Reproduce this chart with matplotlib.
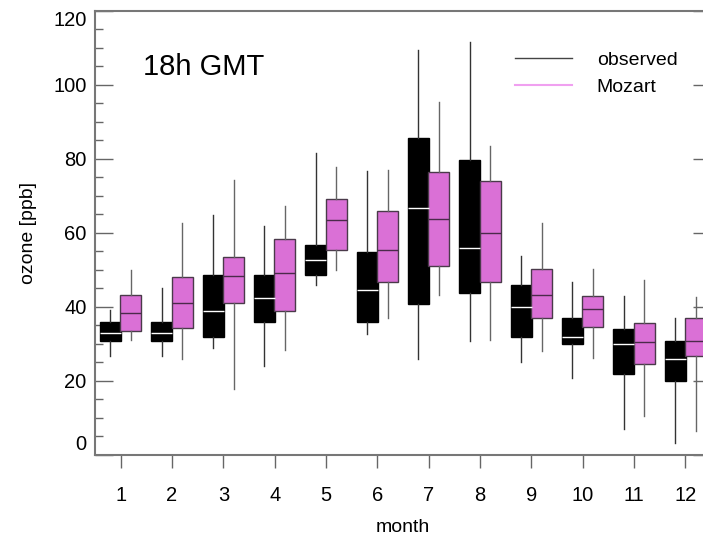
import matplotlib
matplotlib.use("Agg")
import matplotlib.pyplot as plt
from matplotlib.ticker import MultipleLocator

plt.rcParams['font.family'] = ['Liberation Sans', 'DejaVu Sans']

months = [1, 2, 3, 4, 5, 6, 7, 8, 9, 10, 11, 12]
yticks = [0, 20, 40, 60, 80, 100, 120]

# observed: whisker low, q1, median, q3, whisker high
obs_lo  = [26.7, 26.7, 28.8, 23.9, 45.8, 32.7, 25.8, 30.7, 24.9, 20.8, 7.0, 3.0]
obs_q1  = [30.8, 30.8, 31.8, 35.9, 48.6, 35.8, 40.7, 43.6, 31.8, 29.9, 21.7, 19.8]
obs_med = [32.9, 32.9, 38.9, 42.3, 52.7, 44.4, 66.6, 55.9, 39.8, 31.8, 29.9, 25.8]
obs_q3  = [35.9, 35.9, 48.7, 48.7, 56.8, 54.7, 85.6, 79.7, 45.8, 36.8, 33.9, 30.8]
obs_hi  = [39.0, 45.0, 64.7, 61.9, 81.6, 76.7, 109.5, 111.6, 53.8, 46.8, 42.8, 36.8]

# Mozart model
moz_lo  = [31.0, 25.8, 17.8, 28.2, 49.8, 37.0, 43.1, 31.0, 28.0, 26.0, 10.3, 6.4]
moz_q1  = [33.5, 34.2, 41.1, 38.9, 55.2, 46.8, 51.1, 46.6, 37.0, 34.6, 24.4, 26.6]
moz_med = [38.2, 40.9, 48.4, 49.2, 63.5, 55.4, 63.8, 59.9, 43.2, 39.4, 30.5, 30.8]
moz_q3  = [43.2, 48.0, 53.4, 58.2, 69.1, 66.0, 76.5, 73.9, 50.3, 42.8, 35.5, 37.0]
moz_hi  = [50.0, 62.6, 74.2, 67.3, 77.8, 76.9, 95.5, 83.5, 62.6, 50.1, 47.3, 42.6]


def stats(lo, q1, med, q3, hi):
    return [dict(whislo=a, q1=b, med=c, q3=d, whishi=e, fliers=[])
            for a, b, c, d, e in zip(lo, q1, med, q3, hi)]


fig = plt.figure(figsize=(7.03, 5.36), dpi=100)
ax = fig.add_axes([95 / 703, 81.5 / 536, 616 / 703, 443.5 / 536])

off, w = 0.2, 0.41
ax.bxp(stats(obs_lo, obs_q1, obs_med, obs_q3, obs_hi),
       positions=[m - off for m in months], widths=w, patch_artist=True,
       showcaps=False, manage_ticks=False,
       boxprops=dict(facecolor="black", edgecolor="black", linewidth=1),
       medianprops=dict(color="white", linewidth=1),
       whiskerprops=dict(color="#333333", linewidth=1))
ax.bxp(stats(moz_lo, moz_q1, moz_med, moz_q3, moz_hi),
       positions=[m + off for m in months], widths=w, patch_artist=True,
       showcaps=False, manage_ticks=False,
       boxprops=dict(facecolor="#da70d6", edgecolor="#4a3a4a", linewidth=1),
       medianprops=dict(color="#4a2a4a", linewidth=1),
       whiskerprops=dict(color="#666666", linewidth=1))

ax.set_xlim(0.5, 12.5)
ax.set_ylim(0, 120)
ax.set_xticks(months)
ax.set_yticks(yticks)
ax.yaxis.set_minor_locator(MultipleLocator(5))
ax.tick_params(axis="y", which="major", direction="in", length=13, width=1,
               color="#666666", right=True, labelsize=14.5, pad=6)
ax.tick_params(axis="y", which="minor", direction="in", length=6, width=1,
               color="#666666", right=True)
ax.tick_params(axis="x", which="major", direction="out", length=9, width=1,
               color="#666666", labelsize=14.5, pad=14)
# end labels are pulled inside the axis range, as in the original
ylabs = ax.get_yticklabels()
ylabs[0].set_va("bottom")
ylabs[-1].set_va("top")
for s in ax.spines.values():
    s.set_color("#777777")
    s.set_linewidth(1.5)

ax.set_xlabel("month", fontsize=14, labelpad=10)
ax.set_ylabel("ozone [ppb]", fontsize=14, labelpad=12)

ax.text(1.43, 104.8, "18h GMT", fontsize=21, va="center")

ax.plot([], [], color="#444444", lw=1, label="observed")
ax.plot([], [], color="#f0a0f0", lw=1.5, label="Mozart")
ax.legend(loc="upper left", bbox_to_anchor=(0.682, 0.91), frameon=False,
          borderpad=0, borderaxespad=0, fontsize=14,
          handlelength=2.9, handletextpad=1.3, labelspacing=0.5)

fig.savefig("out.png", dpi=100)
